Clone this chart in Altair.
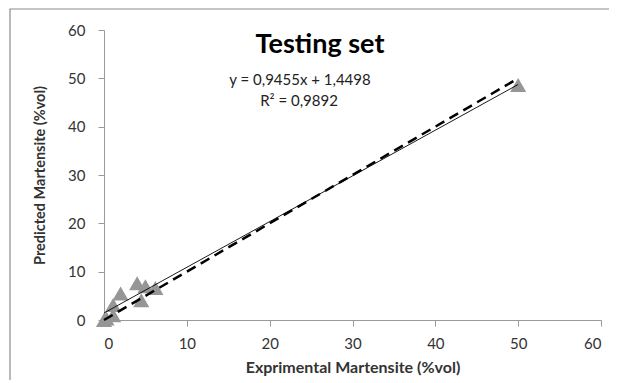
import altair as alt
import pandas as pd

# Data
exp_vals = [0.0, 0.3, 1.1, 1.1, 2.0, 4.0, 5.0, 4.5, 6.2, 50.0]
pred_vals = [0.0, 0.3, 1.0, 3.1, 5.5, 7.6, 7.0, 4.1, 6.6, 48.6]

fit_x = [0, 50]
fit_y = [0.9455 * v + 1.4498 for v in fit_x]
ideal_x = [0, 50]
ideal_y = [0, 50]

title_text = "Testing set"
eq_lines = ["y = 0,9455x + 1,4498", "R² = 0,9892"]

FONT = "Lato"

pts = pd.DataFrame({"x": exp_vals, "y": pred_vals})
fit = pd.DataFrame({"x": fit_x, "y": fit_y})
ideal = pd.DataFrame({"x": ideal_x, "y": ideal_y})

xs = alt.Scale(domain=[0, 60], nice=False)
ys = alt.Scale(domain=[0, 60], nice=False)

xax = alt.Axis(values=[0, 10, 20, 30, 40, 50, 60], grid=False, domainColor="#9a9a9a",
               tickColor="#9a9a9a", tickSize=6, labelFontSize=15, labelColor="#333333",
               labelFont=FONT, labelPadding=10, title="Exprimental  Martensite (%vol)",
               titleFont=FONT, titleFontSize=16, titleFontWeight="bold",
               titleColor="#333333", titlePadding=8)
yax = alt.Axis(values=[0, 10, 20, 30, 40, 50, 60], grid=False, domainColor="#9a9a9a",
               tickColor="#9a9a9a", tickSize=6, labelFontSize=15, labelColor="#333333",
               labelFont=FONT, labelPadding=13, title="Predicted Martensite (%vol)",
               titleFont=FONT, titleFontSize=14.5, titleFontWeight="bold",
               titleColor="#333333", titlePadding=20)

frame = alt.Chart(pd.DataFrame({"a": [0]})).mark_rect(
    fill=None, stroke="#8c8c8c", strokeWidth=1.2
).encode(x=alt.value(-94), x2=alt.value(511), y=alt.value(-21), y2=alt.value(400))

points = alt.Chart(pts).mark_point(
    shape="triangle-up", filled=True, color="#969696", opacity=1, size=260
).encode(x=alt.X("x:Q", scale=xs, axis=xax), y=alt.Y("y:Q", scale=ys, axis=yax))

ideal_line = alt.Chart(ideal).mark_line(
    color="black", strokeWidth=2.5, strokeDash=[10, 6]
).encode(x=alt.X("x:Q", scale=xs), y=alt.Y("y:Q", scale=ys))

fit_line = alt.Chart(fit).mark_line(color="black", strokeWidth=0.9).encode(
    x=alt.X("x:Q", scale=xs), y=alt.Y("y:Q", scale=ys))

title = alt.Chart(pd.DataFrame({"t": [title_text]})).mark_text(
    font=FONT, fontSize=27, fontWeight="bold", color="black", align="center", baseline="middle"
).encode(x=alt.value(216), y=alt.value(15), text="t:N")

eq0 = alt.Chart(pd.DataFrame({"t": [eq_lines[0]]})).mark_text(
    font=FONT, fontSize=15, color="#222222", align="center", baseline="middle"
).encode(x=alt.value(196), y=alt.value(50), text="t:N")
eq1 = alt.Chart(pd.DataFrame({"t": [eq_lines[1]]})).mark_text(
    font=FONT, fontSize=15, color="#222222", align="center", baseline="middle"
).encode(x=alt.value(195), y=alt.value(71), text="t:N")

chart = alt.layer(frame, points, fit_line, ideal_line, title, eq0, eq1).properties(
    width=497, height=290,
    autosize=alt.AutoSizeParams(type="none"),
    padding={"left": 96, "top": 22, "right": 8, "bottom": 60},
    background="white",
).configure_view(stroke=None)

chart.save("out.html", embed_options={"renderer": "svg", "actions": False})
